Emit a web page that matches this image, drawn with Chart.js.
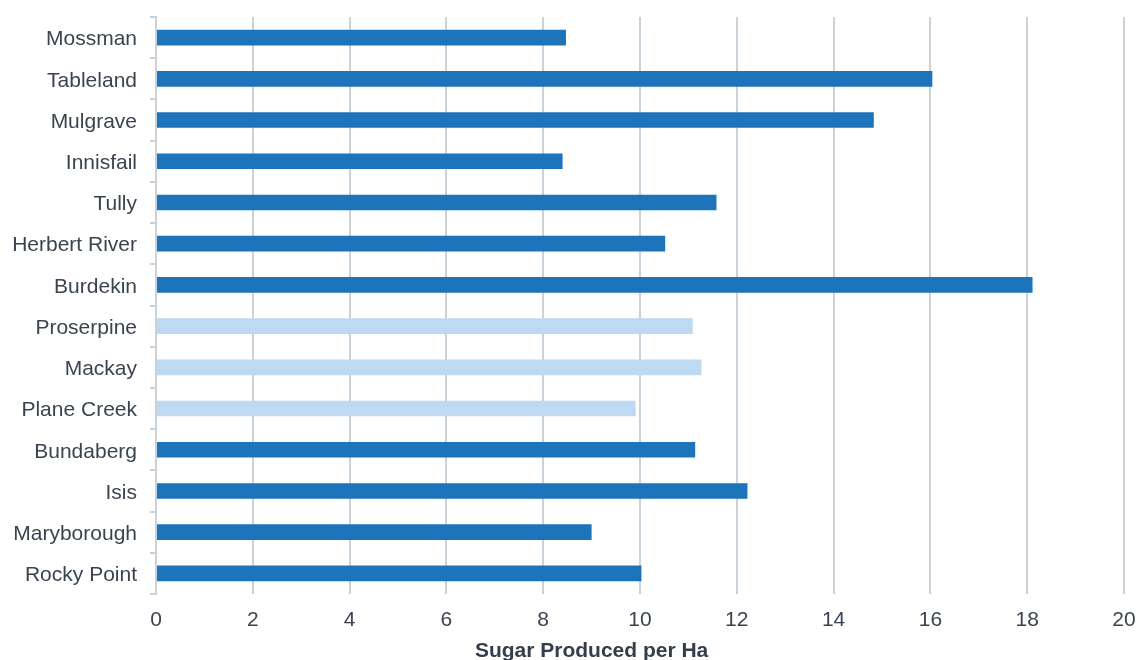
<!DOCTYPE html>
<html>
<head>
<meta charset="utf-8">
<script src="https://cdn.jsdelivr.net/npm/chart.js@4/dist/chart.umd.min.js"></script>
<style>
  html, body { margin: 0; padding: 0; background: #ffffff; }
  #wrap { width: 1137px; height: 660px; }
</style>
</head>
<body>
<div id="wrap"><canvas id="c" width="1137" height="660"></canvas></div>
<script>
const categories = ["Mossman", "Tableland", "Mulgrave", "Innisfail", "Tully", "Herbert River", "Burdekin", "Proserpine", "Mackay", "Plane Creek", "Bundaberg", "Isis", "Maryborough", "Rocky Point"];
const sugarPerHa = [8.47, 16.04, 14.83, 8.40, 11.58, 10.52, 18.11, 11.09, 11.27, 9.91, 11.14, 12.22, 9.00, 10.03];
const highlighted = [false, false, false, false, false, false, false, true, true, true, false, false, false, false];
const xTicks = [0, 2, 4, 6, 8, 10, 12, 14, 16, 18, 20];
const axisTitle = "Sugar Produced per Ha";

const DARK = "#1e74ba";
const LIGHT = "#bddaf2";
const GRID = "#c9d1d9";
const TEXT = "#3a4450";
const FONT = "'Liberation Sans', Arial, sans-serif";

const barColors = highlighted.map(h => h ? LIGHT : DARK);

// Axis title drawn under the x axis, slightly left of the plot centre as in the reference
const axisTitlePlugin = {
  id: "axisTitle",
  afterDraw(chart) {
    const ctx = chart.ctx;
    const xs = chart.scales.x;
    ctx.save();
    ctx.font = "bold 21px " + FONT;
    ctx.fillStyle = "#333e4a";
    ctx.textAlign = "center";
    ctx.textBaseline = "alphabetic";
    const cx = xs.getPixelForValue(9);
    ctx.fillText(axisTitle, cx, xs.bottom - 3.5);
    ctx.restore();
  }
};

new Chart(document.getElementById("c"), {
  type: "bar",
  data: {
    labels: categories,
    datasets: [{
      data: sugarPerHa,
      backgroundColor: barColors,
      borderWidth: 0,
      barPercentage: 0.38,
      categoryPercentage: 1.0
    }]
  },
  plugins: [axisTitlePlugin],
  options: {
    indexAxis: "y",
    responsive: false,
    animation: false,
    devicePixelRatio: 1,
    layout: { padding: { top: 17, right: 13, left: 0, bottom: 0 } },
    plugins: { legend: { display: false }, tooltip: { enabled: false } },
    scales: {
      x: {
        min: 0, max: 20,
        afterBuildTicks: s => { s.ticks = xTicks.map(v => ({ value: v })); },
        afterFit: s => { s.height = 66; s.paddingLeft = 0; s.paddingRight = 0; },
        grid: { color: GRID, lineWidth: 2, drawTicks: false },
        border: { display: false },
        ticks: { color: TEXT, font: { family: FONT, size: 21 }, padding: 14 },
        title: { display: false }
      },
      y: {
        afterFit: s => { s.width = 156; s.paddingTop = 0; s.paddingBottom = 0; },
        grid: { color: GRID, lineWidth: 2, drawOnChartArea: false, drawTicks: true, tickLength: 6 },
        border: { display: true, color: GRID, width: 2 },
        ticks: { color: TEXT, font: { family: FONT, size: 21 }, padding: 13, labelOffset: 2 }
      }
    }
  }
});
</script>
</body>
</html>
